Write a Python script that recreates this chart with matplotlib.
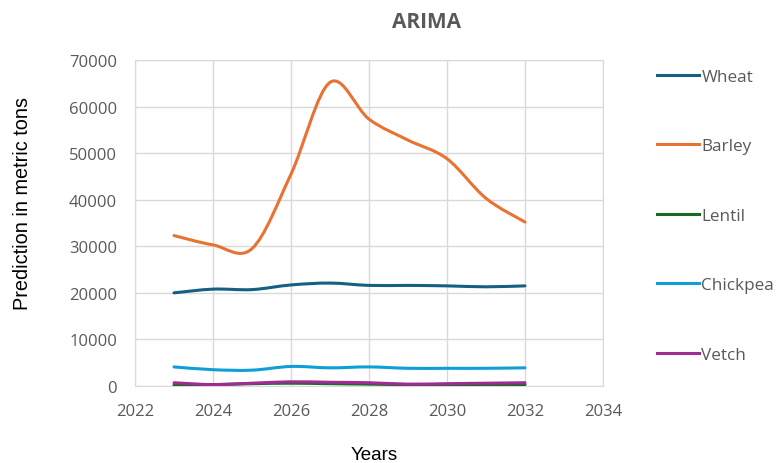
import matplotlib
matplotlib.use("Agg")
import matplotlib.pyplot as plt
from matplotlib.path import Path
from matplotlib.patches import PathPatch
from matplotlib.lines import Line2D

plt.rcParams["font.family"] = ["Open Sans", "DejaVu Sans"]

years = [2023, 2024, 2025, 2026, 2027, 2028, 2029, 2030, 2031, 2032]
wheat = [20000, 20800, 20700, 21700, 22100, 21600, 21600, 21500, 21300, 21500]
barley = [32300, 30300, 29500, 45500, 65200, 57300, 52800, 48800, 40300, 35200]
lentil = [200, 300, 500, 600, 500, 400, 300, 300, 300, 300]
chickpea = [4100, 3500, 3400, 4200, 3900, 4100, 3800, 3800, 3800, 3900]
vetch = [700, 300, 600, 900, 800, 700, 400, 500, 600, 700]

names = ["Wheat", "Barley", "Lentil", "Chickpea", "Vetch"]
series = [wheat, barley, lentil, chickpea, vetch]
colors = ["#156082", "#E97132", "#196B24", "#0F9ED5", "#A02B93"]


def smooth_path(xs, ys):
    # Excel-style smoothed line: cubic Bezier segments with Catmull-Rom handles
    n = len(xs)
    verts = [(xs[0], ys[0])]
    codes = [Path.MOVETO]
    for i in range(n - 1):
        x0, y0 = xs[max(i - 1, 0)], ys[max(i - 1, 0)]
        x1, y1 = xs[i], ys[i]
        x2, y2 = xs[i + 1], ys[i + 1]
        x3, y3 = xs[min(i + 2, n - 1)], ys[min(i + 2, n - 1)]
        c1 = (x1 + (x2 - x0) / 6, y1 + (y2 - y0) / 6)
        c2 = (x2 - (x3 - x1) / 6, y2 - (y3 - y1) / 6)
        verts += [c1, c2, (x2, y2)]
        codes += [Path.CURVE4] * 3
    return Path(verts, codes)


fig = plt.figure(figsize=(7.79, 4.64), dpi=100)
ax = fig.add_axes([135 / 779, 1 - 387 / 464, 468 / 779, 326 / 464])

for vals, c in zip(series, colors):
    ax.add_patch(PathPatch(smooth_path(years, vals), facecolor="none",
                           edgecolor=c, lw=2.2, capstyle="round", zorder=3))

ax.set_xlim(2022, 2034)
ax.set_ylim(0, 70000)
ax.set_xticks(range(2022, 2035, 2))
ax.set_yticks(range(0, 70001, 10000))
ax.grid(True, color="#d9d9d9", lw=1)
ax.set_axisbelow(True)
for s in ax.spines.values():
    s.set_color("#d9d9d9")
ax.tick_params(length=0, labelsize=12, colors="#595959")
ax.tick_params(axis="y", pad=13)
ax.tick_params(axis="x", pad=12)

fig.text(427 / 779, 1 - 22 / 464, "ARIMA", ha="center", va="center",
         fontsize=15, fontweight="bold", color="#595959")
fig.text(23 / 779, 1 - 203 / 464, "Prediction in metric tons", rotation=90,
         ha="center", va="center", fontsize=14.3, color="#000000",
         family="Liberation Sans")
fig.text(374 / 779, 1 - 456 / 464, "Years", ha="center", va="center",
         fontsize=13.5, color="#000000", family="Liberation Sans")

handles = [Line2D([0], [0], color=c, lw=2.2) for c in colors]
fig.legend(handles, names, loc="upper left", bbox_to_anchor=(657 / 779, 1 - 70 / 464),
           frameon=False, fontsize=12.3, labelcolor="#595959", labelspacing=3.13,
           handlelength=2.45, handletextpad=0.15, borderpad=0, borderaxespad=0)

fig.savefig("out.png", dpi=100)
